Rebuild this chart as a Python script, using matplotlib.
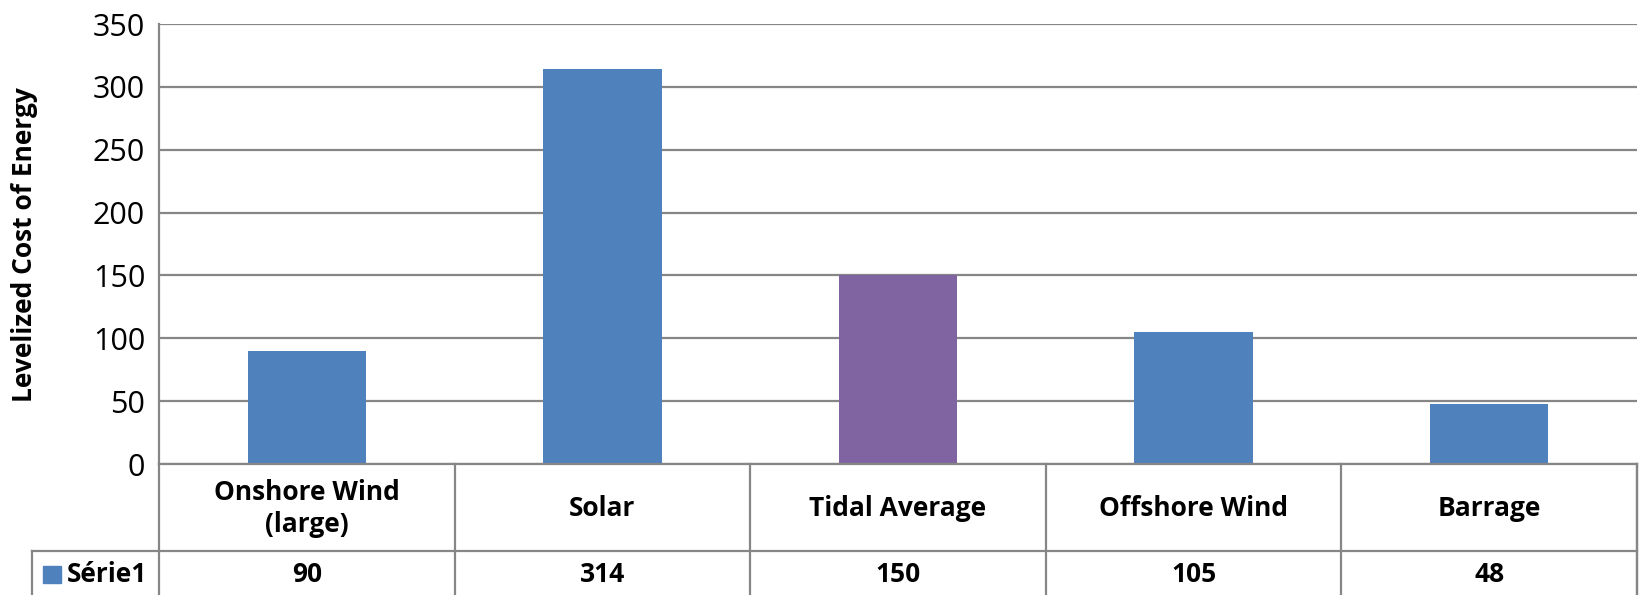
import matplotlib.pyplot as plt
from matplotlib.patches import Rectangle
from matplotlib.lines import Line2D

categories = ["Onshore Wind\n(large)", "Solar", "Tidal Average", "Offshore Wind", "Barrage"]
values = [90, 314, 150, 105, 48]
bar_colors = ["#4F81BD", "#4F81BD", "#8064A2", "#4F81BD", "#4F81BD"]
series_name = "Série1"
yticks = [0, 50, 100, 150, 200, 250, 300, 350]

plt.rcParams['font.family'] = ['Open Sans', 'DejaVu Sans']

W, H = 1640, 595
fig = plt.figure(figsize=(W / 100, H / 100), dpi=100)

def fx(px):
    return px / W

def fy(py):
    return 1 - py / H

left, right, top, bottom = 159, 1637, 24, 464
ax = fig.add_axes([fx(left), fy(bottom), fx(right - left), fy(top) - fy(bottom)])

x = list(range(len(values)))
ax.bar(x, values, width=0.4, color=bar_colors, zorder=3)
ax.set_xlim(-0.5, len(values) - 0.5)
ax.set_ylim(0, 350)
ax.set_yticks(yticks)
ax.tick_params(axis='y', labelsize=22, length=0, pad=10)
ax.set_xticks([])
ax.grid(axis='y', color='#868686', linewidth=1.6, zorder=0)
for s in ['top', 'right', 'bottom']:
    ax.spines[s].set_visible(False)
ax.spines['left'].set_color('#868686')
ax.spines['left'].set_linewidth(1.6)

tsize = 19
fig.text(fx(25), fy(245), "Levelized Cost of Energy", rotation=90, ha='center', va='center',
         fontsize=tsize, fontweight='bold')

# data table under the axis
gc = '#868686'
lw = 1.6
row_split = 551
col_w = (right - left) / len(values)

def hline(y, x0, x1):
    fig.add_artist(Line2D([fx(x0), fx(x1)], [fy(y), fy(y)], color=gc, lw=lw))

def vline(xp, y0, y1):
    fig.add_artist(Line2D([fx(xp), fx(xp)], [fy(y0), fy(y1)], color=gc, lw=lw))

hline(bottom, left, right)
hline(row_split, 32, right)
for k in range(len(values) + 1):
    vline(left + k * col_w, bottom, H)
vline(32, row_split, H)
vline(right, bottom, H)

for k, (cat, v) in enumerate(zip(categories, values)):
    cx = left + (k + 0.5) * col_w
    fig.text(fx(cx), fy((bottom + row_split) / 2 + 1), cat, ha='center', va='center',
             fontsize=tsize, fontweight='bold', linespacing=1.2)
    fig.text(fx(cx), fy((row_split + H) / 2 + 1), str(v), ha='center', va='center',
             fontsize=tsize, fontweight='bold')

fig.add_artist(Rectangle((fx(43), fy(583)), fx(18), fy(566) - fy(583), color=bar_colors[0]))
fig.text(fx(67), fy((row_split + H) / 2 + 1), series_name, ha='left', va='center',
         fontsize=tsize, fontweight='bold')

fig.savefig("out.png", dpi=100)
